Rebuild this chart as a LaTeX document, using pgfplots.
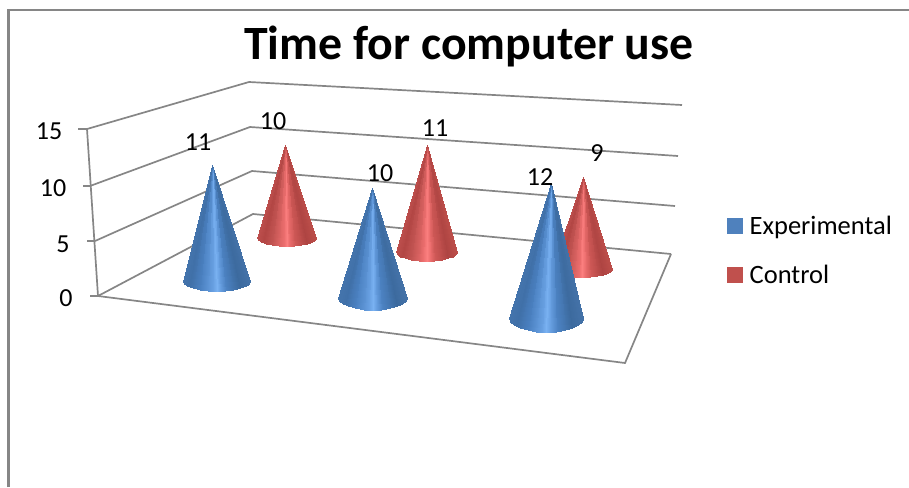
\documentclass[border=0pt]{standalone}
\usepackage{fontspec}
\setmainfont{Carlito}
\usepackage{pgfplots}
\usepackage{pgfplotstable}
\pgfplotsset{compat=1.18}
\definecolor{framegray}{HTML}{868686}
\definecolor{expblue}{HTML}{4F81BD}
\definecolor{ctrlred}{HTML}{C0504D}

% One half of a unit cone as a fan of triangles.
% u, s: position on the front of the base ellipse; h=1 marks the apex; m: shade.
\pgfplotstableread{
u s h m
1 0 0 1
0.966 0.259 0 0.966
0 0 1 0.983
0.966 0.259 0 0.966
0.866 0.5 0 0.866
0 0 1 0.916
0.866 0.5 0 0.866
0.707 0.707 0 0.707
0 0 1 0.786
0.707 0.707 0 0.707
0.5 0.866 0 0.5
0 0 1 0.603
0.5 0.866 0 0.5
0.259 0.966 0 0.259
0 0 1 0.380
0.259 0.966 0 0.259
0.1 0.995 0 0.1
0 0 1 0.180
0.1 0.995 0 0.1
0 1 0 0
0 0 1 0.05
0 1 0 0
-0.1 0.995 0 -0.1
0 0 1 -0.05
-0.1 0.995 0 -0.1
-0.259 0.966 0 -0.259
0 0 1 -0.180
-0.259 0.966 0 -0.259
-0.5 0.866 0 -0.5
0 0 1 -0.380
-0.5 0.866 0 -0.5
-0.707 0.707 0 -0.707
0 0 1 -0.603
-0.707 0.707 0 -0.707
-0.866 0.5 0 -0.866
0 0 1 -0.786
-0.866 0.5 0 -0.866
-0.966 0.259 0 -0.966
0 0 1 -0.916
-0.966 0.259 0 -0.966
-1 0 0 -1
0 0 1 -0.983
}\conefan

% Value labels above the cones.
\pgfplotstableread{
lx ly value
198 142 11
273 121 10
380 173 10
435 128 11
540 177 12
597 153 9
}\valuelabels

% #1 colormap, #2 value, #3 #4 base centre, #5 #6 base radii, #7 apex x, #8 height of one unit
\newcommand{\cone}[8]{%
  \addplot[patch, patch type=triangle, shader=interp, colormap name=#1,
           point meta=explicit, point meta min=-1, point meta max=1, forget plot]
    table[x expr={#3+#5*\thisrow{u}*(1-\thisrow{h})+(#7-#3)*\thisrow{h}},
          y expr={#4+#6*\thisrow{s}*(1-\thisrow{h})-#2*#8*\thisrow{h}},
          meta=m] {\conefan};
}

\pgfplotsset{
  colormap={bluecone}{
    rgb255(0pt)=(68,116,172); rgb255(2pt)=(64,112,168); rgb255(5pt)=(74,128,192);
    rgb255(9pt)=(104,160,226); rgb255(10pt)=(122,178,242); rgb255(11pt)=(104,160,226);
    rgb255(13pt)=(76,130,194); rgb255(17pt)=(60,106,158); rgb255(20pt)=(68,114,168)},
  colormap={redcone}{
    rgb255(0pt)=(188,78,76); rgb255(2pt)=(178,70,68); rgb255(5pt)=(194,84,82);
    rgb255(9pt)=(236,110,110); rgb255(10pt)=(252,128,128); rgb255(11pt)=(236,110,110);
    rgb255(13pt)=(206,88,86); rgb255(17pt)=(174,68,66); rgb255(20pt)=(188,78,74)},
  wall/.style={framegray, line width=1.7pt, no marks, forget plot, line join=miter},
}

\begin{document}
\begin{tikzpicture}
\begin{axis}[
  scale only axis, width=909pt, height=487pt,
  xmin=0, xmax=909, ymin=0, ymax=487, y dir=reverse,
  axis line style={draw=none}, xtick=\empty, ytick=\empty, clip=true,
  legend style={at={(axis cs:726.5,214)}, anchor=north west, draw=none, fill=none,
    font=\fontsize{26.5}{30}\selectfont, row sep=25pt, inner sep=0pt,
    /tikz/every odd column/.append style={column sep=6pt}},
  legend cell align=left,
]
\addlegendimage{only marks, mark=square*, mark size=7.5pt, color=expblue}
\addlegendentry{Experimental}
\addlegendimage{only marks, mark=square*, mark size=7.5pt, color=ctrlred}
\addlegendentry{Control}

% Outer frame
\addplot[wall, line width=2.2pt] coordinates {(8.5,487) (8.5,10) (909,10)};

% Value axis and ticks
\addplot[wall] coordinates {(87,129) (98,296)};
\addplot[wall] coordinates {(78,129) (87,129)};
\addplot[wall] coordinates {(83,186) (90,186)};
\addplot[wall] coordinates {(87,241) (95,241)};
\addplot[wall] coordinates {(90,296) (98,296)};

% Gridlines on the two walls
\addplot[wall] coordinates {(87,129) (249,82) (682,105)};
\addplot[wall] coordinates {(90,186) (250,127) (678,156)};
\addplot[wall] coordinates {(95,241) (252,171) (675,206)};
\addplot[wall] coordinates {(98,296) (253,214) (671,254)};

% Floor
\addplot[wall] coordinates {(98,296) (625,363) (671,254)};

% Cones, back row first
\cone{redcone}{10}{286.5}{238}{29.5}{8}{285}{9.3}
\cone{redcone}{11}{426.5}{252}{30.5}{9}{427}{9.727}
\cone{redcone}{9}{582}{269}{30}{8}{583}{10.22}
\cone{bluecone}{11}{216.5}{281}{33.5}{10}{212}{10.545}
\cone{bluecone}{10}{372.5}{298}{34.5}{12}{372}{11}
\cone{bluecone}{12}{546}{318}{37}{14}{551}{11.25}

% Value labels
\addplot[draw=none, no marks, forget plot, point meta=explicit symbolic,
  nodes near coords, nodes near coords align=center,
  every node near coord/.append style={anchor=center, inner sep=0pt,
    text=black, font=\fontsize{26}{30}\selectfont}]
  table[x=lx, y=ly, meta=value] {\valuelabels};

% Tick labels of the value axis
\addplot[draw=none, no marks, forget plot, point meta=explicit symbolic,
  nodes near coords, nodes near coords align=center,
  every node near coord/.append style={anchor=center, inner sep=0pt,
    text=black, font=\fontsize{26}{30}\selectfont}]
  coordinates {(49,131)[15] (53,188)[10] (63,244)[5] (66,298)[0]};

% Title
\node[anchor=center, inner sep=0pt, font=\fontsize{47.8}{56}\selectfont\bfseries]
  at (axis cs:469,46) {Time for computer use};
\end{axis}
\end{tikzpicture}
\end{document}
